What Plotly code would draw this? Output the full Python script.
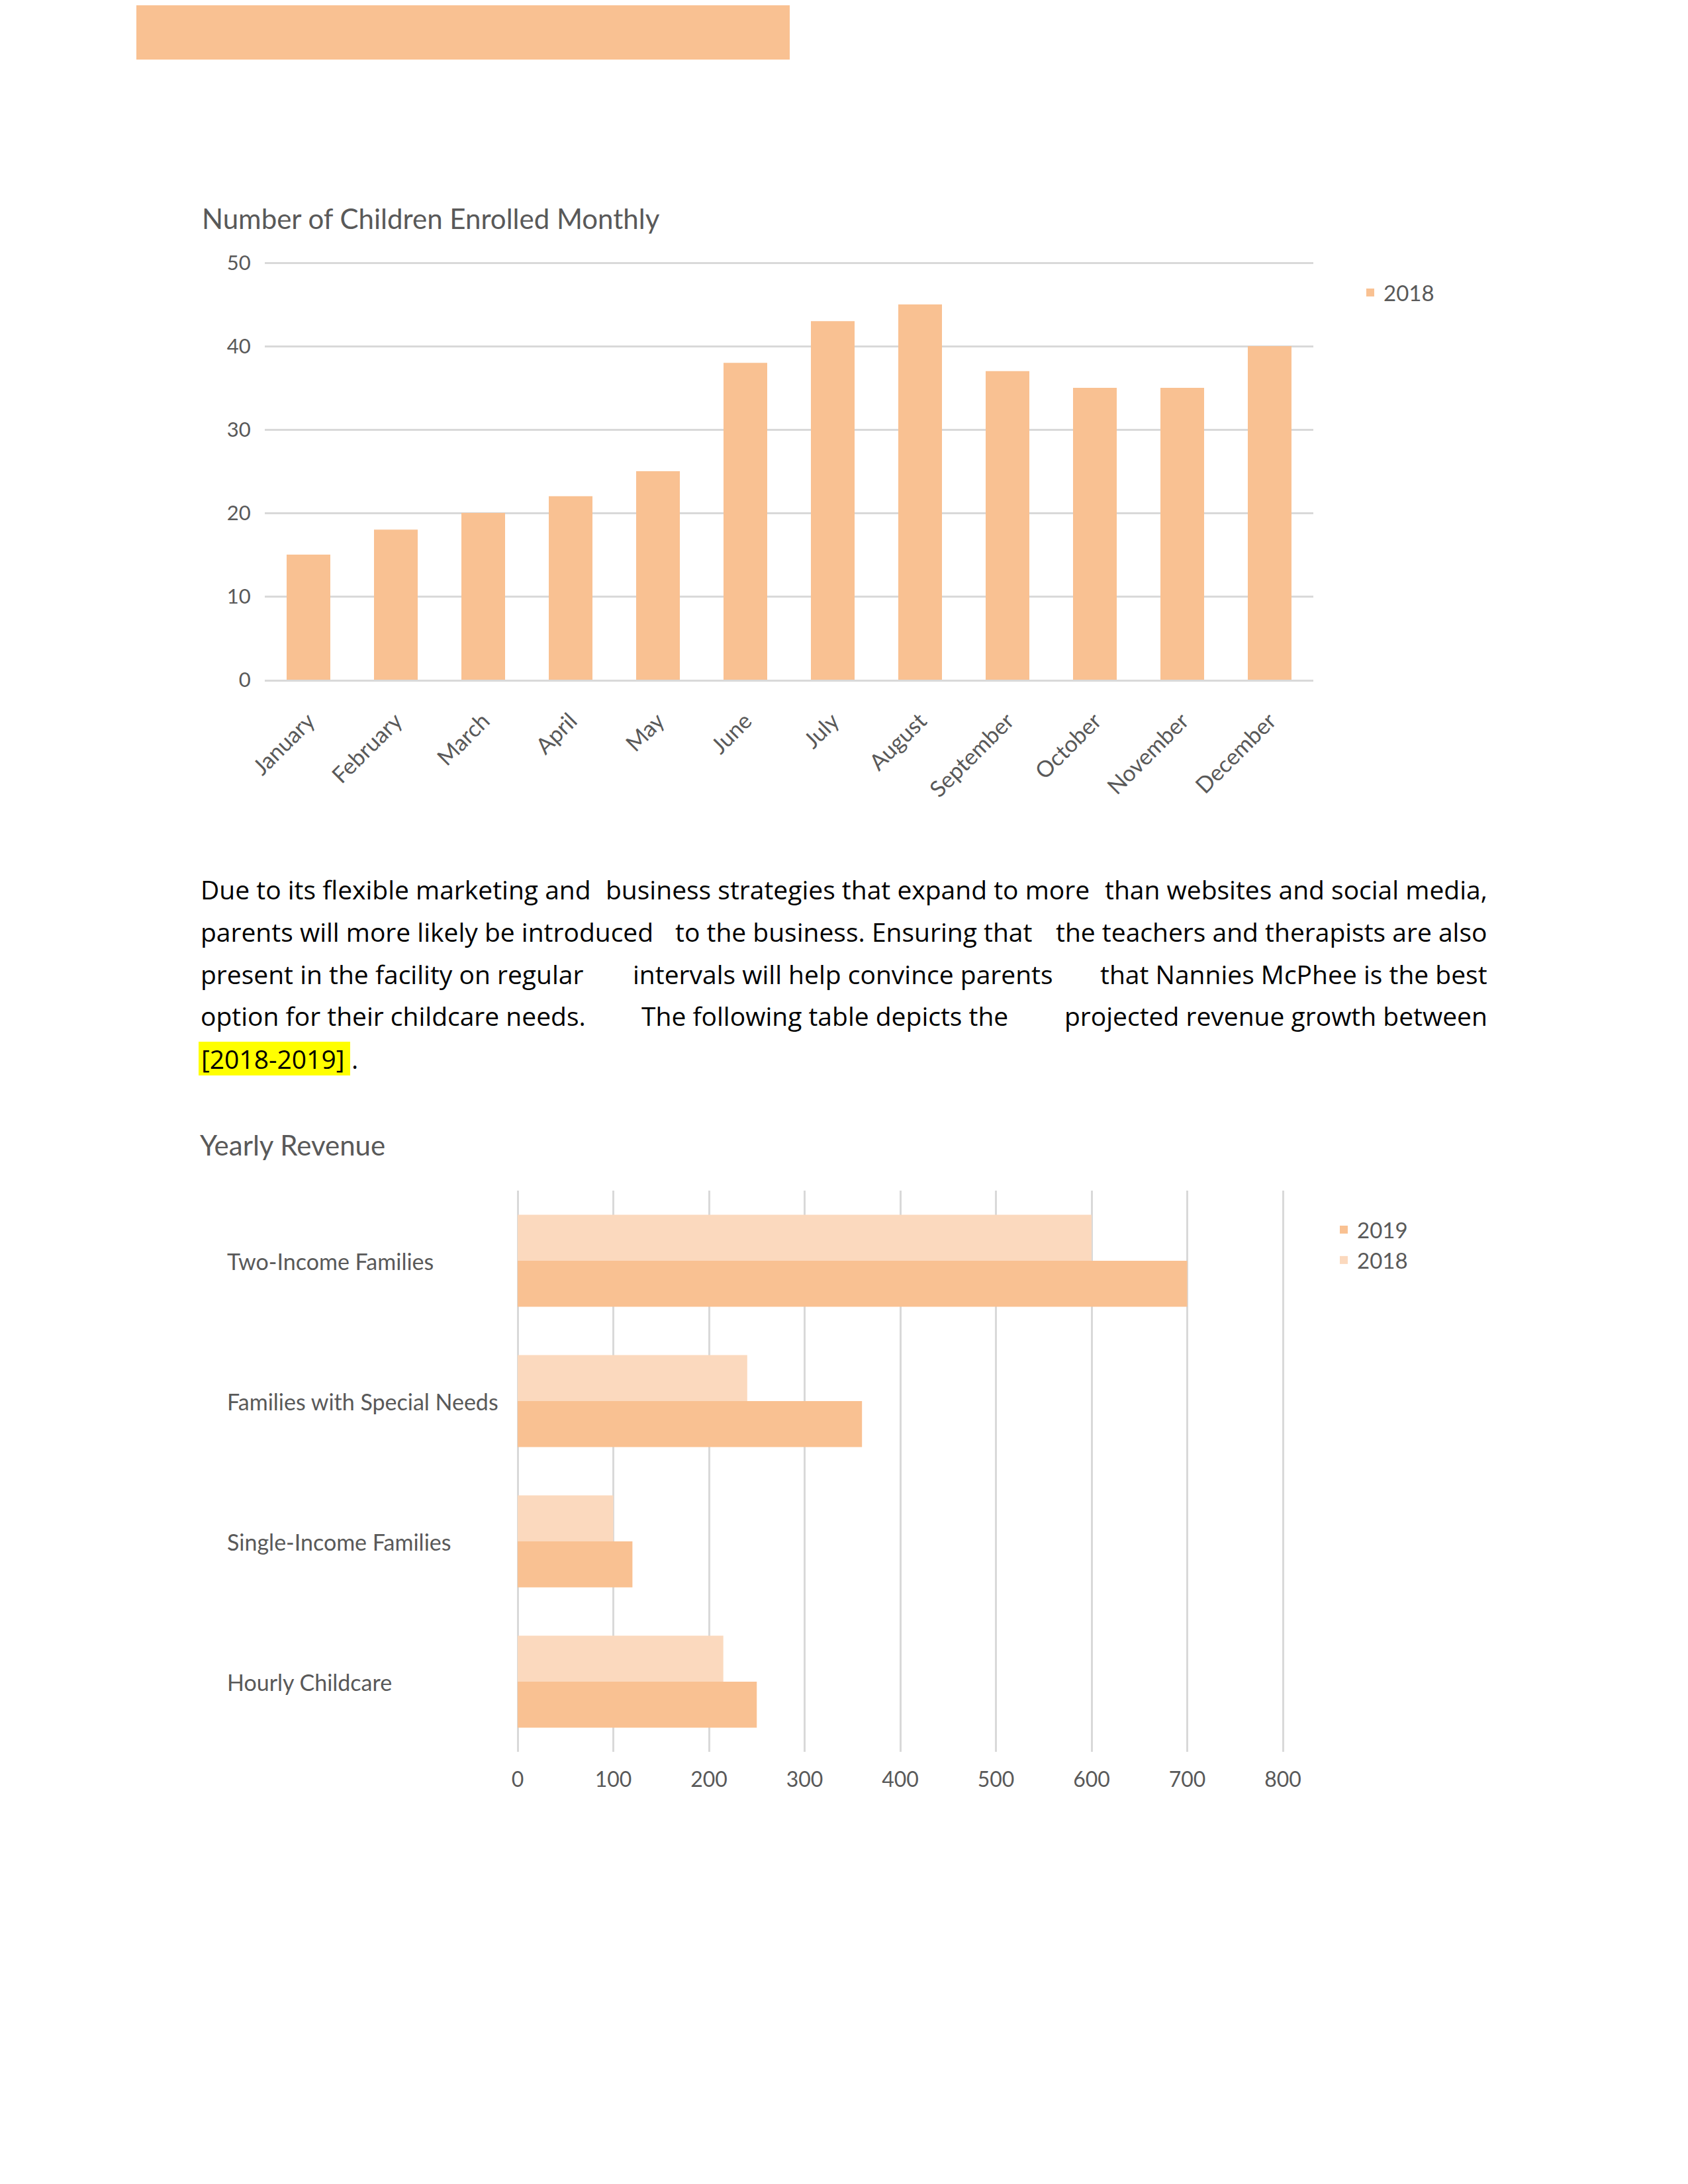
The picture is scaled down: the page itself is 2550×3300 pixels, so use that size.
import plotly.graph_objects as go

W, H = 2550, 3300
OFF = 8  # the page body adds an 8px margin; compensate so marks land where intended

# ---------------- data ----------------
months = ["January", "February", "March", "April", "May", "June", "July",
          "August", "September", "October", "November", "December"]
enrolled_2018 = [15, 18, 20, 22, 25, 38, 43, 45, 37, 35, 35, 40]

revenue_categories = ["Two-Income Families", "Families with Special Needs",
                      "Single-Income Families", "Hourly Childcare"]
revenue_2018 = [600, 240, 100, 215]
revenue_2019 = [700, 360, 120, 250]

enroll_ticks = [0, 10, 20, 30, 40, 50]
revenue_ticks = [0, 100, 200, 300, 400, 500, 600, 700, 800]

# paragraph, each line split in three chunks (left / centre / right) to imitate justification
paragraph_lines = [
    ["Due to its flexible marketing and", "business strategies that expand to more",
     "than websites and social media,"],
    ["parents will more likely be introduced", "to the business. Ensuring that",
     "the teachers and therapists are also"],
    ["present in the facility on regular", "intervals will help convince parents",
     "that Nannies McPhee is the best"],
    ["option for their childcare needs.", "The following table depicts the",
     "projected revenue growth between"],
]
middle_shift = [5, 15, -2, -29]
highlight_text = "[2018-2019]"

# ---------------- styles ----------------
C19 = "#F9C192"
C18 = "#FBD9BE"
GRID = "#D9D9D9"
TXT = "#595959"
FONT = "Lato, 'Open Sans', sans-serif"
PFONT = "'Open Sans', Lato, sans-serif"


def px(x):
    return (x - OFF) / W


def py(y):
    return 1 - (y - OFF) / H


fig = go.Figure()

fig.add_trace(go.Bar(
    x=months, y=enrolled_2018, name="2018", marker=dict(color=C19, line=dict(width=0)),
    width=0.5, xaxis="x", yaxis="y", legend="legend"))

fig.add_trace(go.Bar(
    y=revenue_categories, x=revenue_2018, orientation="h", name="2018",
    marker=dict(color=C18, line=dict(width=0)), xaxis="x2", yaxis="y2", legend="legend2"))
fig.add_trace(go.Bar(
    y=revenue_categories, x=revenue_2019, orientation="h", name="2019",
    marker=dict(color=C19, line=dict(width=0)), xaxis="x2", yaxis="y2", legend="legend2"))

annotations = []
# chart titles
annotations.append(dict(text="Number of Children Enrolled Monthly", x=px(303), y=py(330),
                        xref="paper", yref="paper", xanchor="left", yanchor="middle",
                        showarrow=False, font=dict(family=FONT, size=42, color=TXT)))
annotations.append(dict(text="Yearly Revenue", x=px(300), y=py(1730),
                        xref="paper", yref="paper", xanchor="left", yanchor="middle",
                        showarrow=False, font=dict(family=FONT, size=42, color=TXT)))

# paragraph (justified look)
LEFT, RIGHT = 301, 2249
line_y = [1343, 1407, 1471, 1535]
pfont = dict(family=PFONT, size=39, color="#000000")
for chunks, yy, sh in zip(paragraph_lines, line_y, middle_shift):
    a, b, c = chunks
    annotations.append(dict(text=a, x=px(LEFT), y=py(yy), xref="paper", yref="paper",
                            xanchor="left", yanchor="middle", showarrow=False, font=pfont))
    annotations.append(dict(text=b, x=px((LEFT + RIGHT) / 2 + sh), y=py(yy), xref="paper",
                            yref="paper", xanchor="center", yanchor="middle", showarrow=False,
                            font=pfont))
    annotations.append(dict(text=c, x=px(RIGHT), y=py(yy), xref="paper", yref="paper",
                            xanchor="right", yanchor="middle", showarrow=False, font=pfont))
annotations.append(dict(text=highlight_text, x=px(302), y=py(1599), xref="paper",
                        yref="paper", xanchor="left", yanchor="middle", showarrow=False,
                        font=pfont))
annotations.append(dict(text=".", x=px(529), y=py(1599), xref="paper",
                        yref="paper", xanchor="left", yanchor="middle", showarrow=False,
                        font=pfont))

# category labels for horizontal chart (left aligned)
for c in revenue_categories:
    annotations.append(dict(text=c, x=px(341), y=c, xref="paper", yref="y2",
                            xanchor="left", yanchor="middle", showarrow=False,
                            font=dict(family=FONT, size=34, color=TXT)))

shapes = [
    dict(type="rect", xref="paper", yref="paper", x0=px(206), x1=px(1193),
         y0=py(90), y1=py(-20), fillcolor=C19, line=dict(width=0), layer="below"),
    dict(type="rect", xref="paper", yref="paper", x0=px(300), x1=px(529),
         y0=py(1625), y1=py(1574), fillcolor="#FFFF00", line=dict(width=0), layer="below"),
]

# chart 1: 0..50 maps to y 1027..397 px (12.6 px / unit); small headroom so the 50 gridline shows
Y1_TOP = 50.3
y1_top_px = 1027 - Y1_TOP * 12.6
# chart 2: 0..800 maps to x 782..1938 px (1.445 px / unit)
X2_MAX = 810
x2_right_px = 782 + X2_MAX * 1.445

fig.update_layout(
    width=W, height=H,
    margin=dict(l=0, r=0, t=0, b=0, pad=0, autoexpand=False),
    paper_bgcolor="white", plot_bgcolor="white",
    barmode="group", bargap=0.344, bargroupgap=0,
    font=dict(family=FONT, color=TXT),
    showlegend=True,
    xaxis=dict(domain=[px(400), px(1984)], anchor="y", tickangle=-45,
               tickfont=dict(family=FONT, size=34, color=TXT), automargin=False,
               showgrid=False, showline=True, linecolor=GRID, linewidth=3,
               ticks="outside", ticklen=26, tickcolor="rgba(0,0,0,0)", fixedrange=True),
    yaxis=dict(domain=[py(1027), py(y1_top_px)], anchor="x", range=[0, Y1_TOP],
               tickvals=enroll_ticks, tickfont=dict(family=FONT, size=31, color=TXT),
               automargin=False,
               showgrid=True, gridcolor=GRID, gridwidth=3, zeroline=False, showline=False,
               ticks="outside", ticklen=14, tickcolor="rgba(0,0,0,0)", fixedrange=True),
    xaxis2=dict(domain=[px(782), px(x2_right_px)], anchor="y2", range=[0, X2_MAX],
                tickvals=revenue_ticks, tickfont=dict(family=FONT, size=32, color=TXT),
                automargin=False,
                showgrid=True, gridcolor=GRID, gridwidth=3,
                zeroline=True, zerolinecolor=GRID, zerolinewidth=3,
                ticks="outside", ticklen=14, tickcolor="rgba(0,0,0,0)", fixedrange=True),
    yaxis2=dict(domain=[py(2647), py(1799)], anchor="x2", type="category",
                categoryorder="array", categoryarray=revenue_categories,
                range=[3.5, -0.5], showticklabels=False, showgrid=False, automargin=False,
                zeroline=False, showline=False, ticks="", fixedrange=True),
    legend=dict(x=px(2050), y=py(442), xanchor="left", yanchor="middle",
                font=dict(family=FONT, size=33, color=TXT), bgcolor="rgba(0,0,0,0)"),
    legend2=dict(x=px(2010), y=py(1881), xanchor="left", yanchor="middle",
                 traceorder="reversed",
                 font=dict(family=FONT, size=33, color=TXT), bgcolor="rgba(0,0,0,0)"),
    annotations=annotations,
    shapes=shapes,
)

fig.write_html("out.html")
